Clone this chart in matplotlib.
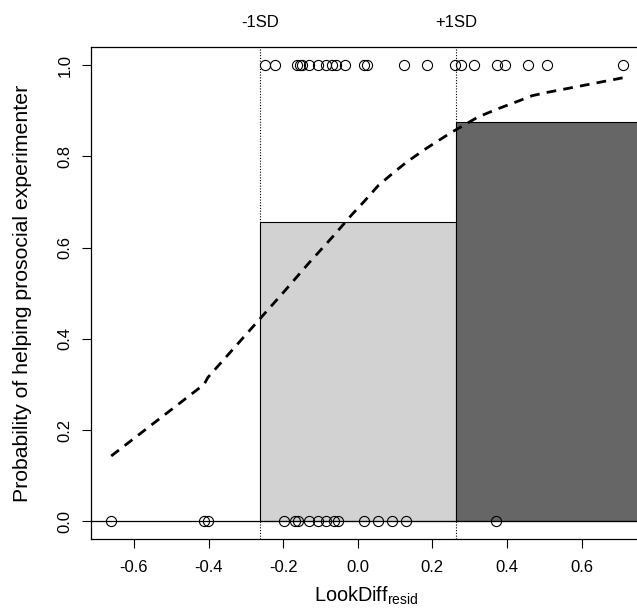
import numpy as np
import matplotlib.pyplot as plt

plt.rcParams['font.family'] = ['Liberation Sans', 'DejaVu Sans']
plt.rcParams['axes.unicode_minus'] = False

# observed choices: x positions of children who helped (y=1) / did not (y=0)
helped_x = [-0.249, -0.223, -0.162, -0.156, -0.150, -0.131, -0.108, -0.086,
            -0.068, -0.059, -0.033, 0.017, 0.026, 0.124, 0.185, 0.260,
            0.276, 0.312, 0.373, 0.394, 0.455, 0.507, 0.710]
not_helped_x = [-0.661, -0.412, -0.402, -0.199, -0.168, -0.159, -0.132,
                -0.108, -0.086, -0.063, -0.052, 0.017, 0.053, 0.093, 0.129,
                0.370]

# fitted probability (dashed curve)
fit_x = [-0.661, -0.412, -0.402, -0.249, -0.199, -0.130, -0.068, -0.016,
         0.017, 0.055, 0.094, 0.132, 0.185, 0.246, 0.284, 0.322, 0.375,
         0.427, 0.468, 0.507, 0.710]
fit_y = [0.143, 0.300, 0.315, 0.456, 0.502, 0.567, 0.623, 0.672,
         0.701, 0.736, 0.763, 0.788, 0.818, 0.850, 0.868, 0.886, 0.904,
         0.920, 0.933, 0.940, 0.972]

# +/- 1 SD cut points and proportion helping in each band
sd_cuts = [-0.262, 0.263]
sd_labels = ['-1SD', '+1SD']
band_heights = [0.657, 0.876]
band_colors = ['#d2d2d2', '#666666']

fig = plt.figure(figsize=(6.37, 6.15), dpi=100)
ax = fig.add_axes([0.1424, 0.1236, 0.8655, 0.7995])

for xc in sd_cuts:
    ax.axvline(xc, color='black', linestyle=(0, (1, 1.5)), linewidth=0.8, zorder=1)

ax.bar(sd_cuts, band_heights, width=[sd_cuts[1] - sd_cuts[0], 1.0],
       align='edge', color=band_colors, edgecolor='black', linewidth=0.8, zorder=2)

ax.axhline(0, color='black', linewidth=0.9, zorder=3)

ax.plot(fit_x, fit_y, color='black', linestyle=(0, (3.5, 2.6)), linewidth=2, zorder=4)

ax.plot(helped_x, np.ones(len(helped_x)), 'o', mfc='none', mec='black',
        ms=7.3, mew=0.8, zorder=5)
ax.plot(not_helped_x, np.zeros(len(not_helped_x)), 'o', mfc='none', mec='black',
        ms=7.3, mew=0.8, zorder=5)

for xc, lab in zip(sd_cuts, sd_labels):
    ax.annotate(lab, xy=(xc, 1), xycoords=('data', 'axes fraction'),
                xytext=(0, 18), textcoords='offset points',
                ha='center', va='center', fontsize=12)

ax.set_xlim(-0.716, 0.762)
ax.set_ylim(-0.039, 1.039)
ax.set_xticks(np.arange(-0.6, 0.61, 0.2))
ax.set_xticklabels(['%.1f' % v for v in np.arange(-0.6, 0.61, 0.2)])
ax.set_yticks(np.arange(0, 1.01, 0.2))
ax.set_yticklabels(['%.1f' % v for v in np.arange(0, 1.01, 0.2)],
                   rotation=90, va='center')
ax.tick_params(direction='out', length=6.5, width=0.8, labelsize=12)
ax.tick_params(axis='x', pad=8.5)
ax.tick_params(axis='y', pad=6.5)
for sp in ax.spines.values():
    sp.set_linewidth(0.9)
ax.spines['right'].set_visible(False)

ax.set_xlabel('LookDiff$_{\\mathregular{resid}}$', fontsize=14.3, labelpad=7)
ax.set_ylabel('Probability of helping prosocial experimenter', fontsize=15.3,
              va='center')
ax.yaxis.set_label_coords(-0.1246, 0.5)

fig.savefig('out.png', dpi=100)
